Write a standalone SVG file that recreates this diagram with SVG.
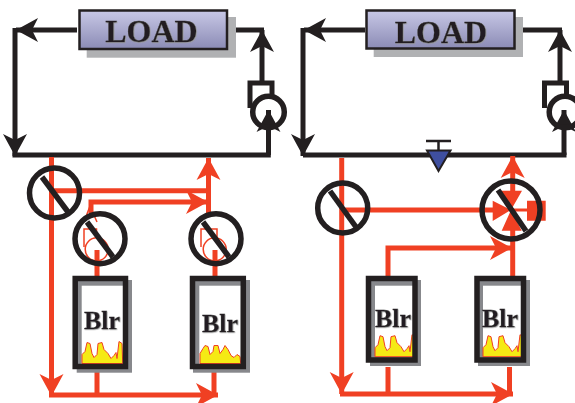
<svg xmlns="http://www.w3.org/2000/svg" xmlns:xlink="http://www.w3.org/1999/xlink" width="575" height="403" viewBox="0 0 575 403">
<style>
.k{fill:none;stroke:#231f20;stroke-width:5}
.r{fill:none;stroke:#f04023;stroke-width:5}
.t{fill:none;stroke:#f04023;stroke-width:1.5}
.v{fill:none;stroke:#231f20;stroke-width:5.500}
.rf{fill:#f04023}
.sh{fill:#b0b1b3}
.bs{fill:#87888c}
.w{fill:#fff}
.load{fill:url(#lg);stroke:#231f20;stroke-width:2.500}
.tx{font-family:"Liberation Serif","Times New Roman",serif;font-weight:bold;fill:#231f20;text-anchor:middle;stroke:#231f20;stroke-width:.3;filter:url(#ts)}
.fl{fill:#f5ea14;stroke:#f04023;stroke-width:1}
</style>
<defs>
<linearGradient id="lg" x1="0" y1="0" x2="0" y2="1"><stop offset="0" stop-color="#c8c8e6"/><stop offset="1" stop-color="#8b8bb5"/></linearGradient>
<filter id="ts" x="-10%" y="-10%" width="120%" height="120%"><feDropShadow dx=".6" dy=".6" stdDeviation=".1" flood-color="#9a9a9a"/></filter>
<marker id="ak" markerUnits="userSpaceOnUse" markerWidth="28" markerHeight="28" viewBox="-25 -14 28 28" refX="0" refY="0" orient="auto"><path d="M0 0L-22-12L-16 0L-22 12Z" fill="#231f20"/></marker>
<marker id="ar" markerUnits="userSpaceOnUse" markerWidth="28" markerHeight="28" viewBox="-25 -14 28 28" refX="0" refY="0" orient="auto"><path d="M0 0L-22-12L-16 0L-22 12Z" fill="#f04023"/></marker>
<path id="fa" class="fl" d="M0 0V-9L3-12L5-21L8-20L10-10L12-6L15-9L16-20L20-21L22-14L26-10L29-5L32-8L34-11L35-5L37-22L40-20L40.700 0Z"/>
<path id="fb" class="fl" d="M0 0V-10L3-15L5-18L8-17L10-9L13-12L14-18L18-18L20-10L23-14L25-18L28-14L31-8L34-6L37-9L40-7L40.700 0Z"/>
</defs>

<g id="connectors">
<path class="k" marker-end="url(#ak)" d="M77 30H16"/>
<path class="k" marker-end="url(#ak)" d="M15 28V156"/>
<path class="k" d="M12.500 155H270.800"/>
<path class="k" marker-end="url(#ak)" d="M268.500 155V110"/>
<path class="k" marker-end="url(#ak)" d="M262 82V30"/>
<path class="k" d="M236 30H264"/>
<path class="k" marker-end="url(#ak)" d="M365 30H304"/>
<path class="k" marker-end="url(#ak)" d="M303 28V156"/>
<path class="k" d="M303 155H566.500"/>
<path class="k" marker-end="url(#ak)" d="M564 155V110"/>
<path class="k" marker-end="url(#ak)" d="M560 82V30"/>
<path class="k" d="M523 30H562"/>

<path class="r" marker-end="url(#ar)" d="M51.500 157V396"/>
<path class="r" marker-end="url(#ar)" d="M49 395H218"/>
<path class="r" d="M97 372V395M214 372V395"/>
<path class="r" d="M51 190.700H209"/>
<path class="r" marker-end="url(#ar)" d="M208.500 213V158"/>
<path class="r" marker-end="url(#ar)" d="M91 213V202H208"/>
<path class="r" d="M97 276V250M215 276V250"/>

<path class="r" marker-end="url(#ar)" d="M341.700 158V394"/>
<path class="r" marker-end="url(#ar)" d="M340 394H513"/>
<path class="r" d="M388 367V394M509.500 367V394"/>
<path class="r" d="M342 210H495"/>
<path class="r" marker-end="url(#ar)" d="M512.700 195V156"/>
<path class="r" d="M512.700 228V276"/>
<path class="r" marker-end="url(#ar)" d="M388 276V248H512"/>
</g>

<g id="load-left">
<rect class="sh" x="86.700" y="17" width="149.300" height="40.700"/>
<rect class="load" x="79.500" y="10.500" width="147.500" height="38.500"/>
<text class="tx" x="151.500" y="42" font-size="32">LOAD</text>
</g>
<g id="load-right">
<rect class="sh" x="373.700" y="17" width="149.300" height="40"/>
<rect class="load" x="366.500" y="10.500" width="148" height="38"/>
<text class="tx" x="441" y="42.500" font-size="32">LOAD</text>
</g>

<g id="pump-left">
<path class="k" d="M250 108V83H272V95"/>
<circle class="v" cx="268.500" cy="112" r="15.800"/>
</g>
<g id="pump-right">
<path class="k" d="M544.500 108V83H566.500V95"/>
<circle class="v" cx="565" cy="112" r="15.800"/>
</g>

<g id="globe-valve">
<path d="M426 141H451M438.500 141V150" fill="none" stroke="#231f20" stroke-width="2.500"/>
<path d="M427 150.500H450.500L438.500 171Z" fill="#3f4f9f" stroke="#231f20" stroke-width="2"/>
</g>

<g id="pump-b1">
<path class="t" d="M84 247V229H96.500V238"/>
<circle class="t" cx="96.700" cy="249.300" r="11.500"/>
<path class="t" d="M84 222L90 206L97 222"/>
</g>
<g id="pump-b2">
<path class="t" d="M201 247V229H217V238"/>
<circle class="t" cx="214.700" cy="249.300" r="11.500"/>
</g>

<g id="valve-1"><circle class="v" cx="54.500" cy="193" r="25"/><path class="v" d="M42 177L68 212"/></g>
<g id="valve-2"><circle class="v" cx="100" cy="238.700" r="25"/><path class="v" d="M87 222L113 257"/></g>
<g id="valve-3"><circle class="v" cx="216" cy="238.700" r="25"/><path class="v" d="M203 222L229 257"/></g>
<g id="valve-4"><circle class="v" cx="342.700" cy="208" r="25"/><path class="v" d="M330 191L356 227"/></g>
<g id="valve-5">
<path class="rf" d="M492.700 200.700V221L511 210ZM498 190.700H522L511 210ZM501.700 230.700H521.700L511 210ZM527 200.700H545.700V220.700H527Z"/>
<path class="r" style="stroke-width:3" d="M511 210H527"/>
<circle class="v" cx="511" cy="210" r="29"/>
<path class="v" d="M498 190L526 231"/>
</g>

<g id="boiler-1">
<rect class="bs" x="76.700" y="280" width="55.300" height="92.700"/>
<rect class="w" x="81.700" y="285.700" width="41.500" height="78"/>
<use xlink:href="#fa" href="#fa" x="82" y="363.500"/>
<rect class="v" x="75.200" y="278.500" width="50.300" height="88"/>
<text class="tx" x="102" y="329" font-size="26">Blr</text>
</g>
<g id="boiler-2">
<rect class="bs" x="193" y="280" width="57" height="92.700"/>
<rect class="w" x="199.300" y="285.700" width="41.500" height="78"/>
<use xlink:href="#fb" href="#fb" x="200" y="363.500"/>
<rect class="v" x="192.500" y="278.500" width="50.800" height="88"/>
<text class="tx" x="220" y="332" font-size="26">Blr</text>
</g>
<g id="boiler-3">
<rect class="bs" x="370" y="280" width="51" height="86"/>
<rect class="w" x="375" y="285.700" width="40" height="71"/>
<use xlink:href="#fa" href="#fa" x="375" y="356.700"/>
<rect class="v" x="368.500" y="278.500" width="46.500" height="81.500"/>
<text class="tx" x="393" y="326.700" font-size="26">Blr</text>
</g>
<g id="boiler-4">
<rect class="bs" x="478" y="280" width="52" height="86"/>
<rect class="w" x="483" y="285.700" width="40" height="71"/>
<use xlink:href="#fa" href="#fa" x="483" y="356.700"/>
<rect class="v" x="477" y="278.500" width="46.500" height="81.500"/>
<text class="tx" x="500" y="326.700" font-size="26">Blr</text>
</g>
</svg>
